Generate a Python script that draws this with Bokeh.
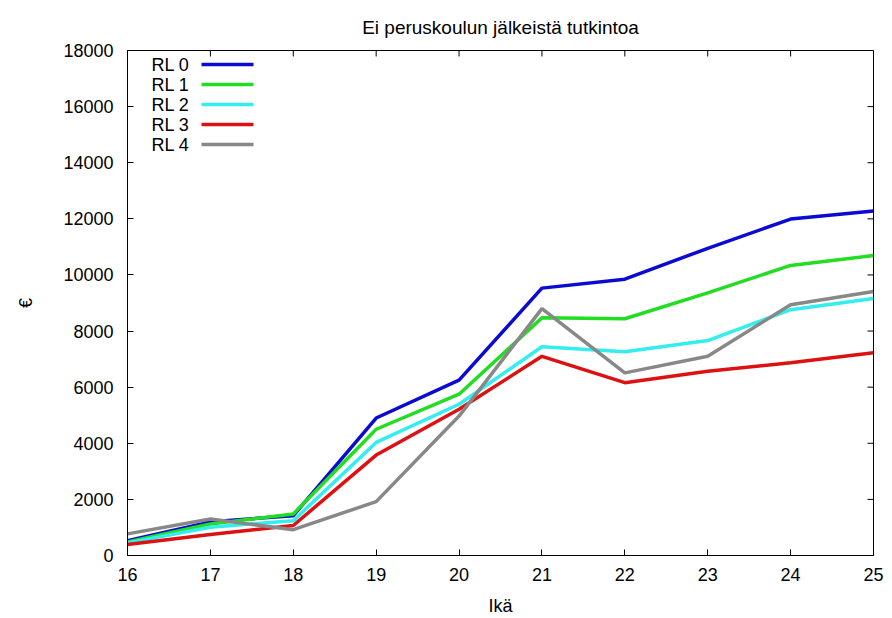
from bokeh.plotting import figure
from bokeh.models import Range1d, FixedTicker, Label, BoxAnnotation, Title
from bokeh.embed import file_html
from bokeh.resources import INLINE

ages = [16, 17, 18, 19, 20, 21, 22, 23, 24, 25]
rl0 = [530, 1200, 1420, 4900, 6250, 9530, 9850, 10950, 11990, 12280]
rl1 = [480, 1120, 1480, 4500, 5750, 8470, 8440, 9360, 10340, 10690]
rl2 = [450, 1010, 1240, 4030, 5390, 7440, 7260, 7660, 8760, 9160]
rl3 = [390, 750, 1070, 3580, 5210, 7100, 6160, 6570, 6870, 7230]
rl4 = [770, 1300, 920, 1920, 4970, 8800, 6510, 7100, 8940, 9410]

series_names = ["RL 0", "RL 1", "RL 2", "RL 3", "RL 4"]
series = [rl0, rl1, rl2, rl3, rl4]
colors = ["#0a0ad2", "#22dd22", "#33eeee", "#dd1111", "#888888"]

y_ticks = [0, 2000, 4000, 6000, 8000, 10000, 12000, 14000, 16000, 18000]
title_text = "Ei peruskoulun jälkeistä tutkintoa"
x_label = "Ikä"
y_label = "€"

FONT = "Liberation Sans"
W, H = 892, 618
BL, BR, BT, BB = 127, 19, 50, 61
FW, FH = W - BL - BR, H - BT - BB
XMIN, XMAX, YMIN, YMAX = 16, 25, 0, 18000
TICK = 6

p = figure(width=W, height=H, output_backend="svg", toolbar_location=None,
           x_range=Range1d(XMIN, XMAX), y_range=Range1d(YMIN, YMAX),
           min_border_left=BL, min_border_right=BR, min_border_top=BT, min_border_bottom=BB)
p.title = Title(text=title_text, align="center", text_font=FONT, text_font_size="19px",
                text_font_style="normal", text_color="black", standoff=25,
                text_line_height=1.0)
p.xgrid.visible = False
p.ygrid.visible = False
p.outline_line_color = "black"
p.outline_line_width = 1
p.outline_line_alpha = 1
p.background_fill_color = "white"
p.border_fill_color = "white"

for ax in (p.xaxis[0], p.yaxis[0]):
    ax.major_tick_in = TICK
    ax.major_tick_out = 0
    ax.minor_tick_in = 0
    ax.minor_tick_out = 0
    ax.axis_line_color = "black"
    ax.major_tick_line_color = "black"
    ax.major_label_text_font = FONT
    ax.major_label_text_font_size = "18px"
    ax.major_label_text_color = "black"
    ax.axis_label_text_font = FONT
    ax.axis_label_text_font_size = "18px"
    ax.axis_label_text_font_style = "normal"
    ax.axis_label_text_color = "black"

p.xaxis[0].ticker = FixedTicker(ticks=ages)
p.yaxis[0].ticker = FixedTicker(ticks=y_ticks)
p.xaxis[0].axis_label = x_label
p.yaxis[0].axis_label = y_label
p.xaxis[0].major_label_standoff = 12
p.yaxis[0].major_label_standoff = 14
p.xaxis[0].axis_label_standoff = 12
p.yaxis[0].axis_label_standoff = 24

# mirrored tick marks on the top and right edges of the frame
dy = TICK * (YMAX - YMIN) / FH
dx = TICK * (XMAX - XMIN) / FW
p.segment(x0=ages, y0=[YMAX] * len(ages), x1=ages, y1=[YMAX - dy] * len(ages),
          line_color="black", line_width=1)
p.segment(x0=[XMAX] * len(y_ticks), y0=y_ticks, x1=[XMAX - dx] * len(y_ticks), y1=y_ticks,
          line_color="black", line_width=1)

for name, vals, col in zip(series_names, series, colors):
    p.line(ages, vals, line_color=col, line_width=3.5)

# custom legend (label to the left of the sample line), screen units relative to frame
for i, (name, col) in enumerate(zip(series_names, colors)):
    yc = FH - 16 - 20 * i
    p.add_layout(Label(x=62, y=yc, x_units="screen", y_units="screen", text=name,
                       text_align="right", text_baseline="middle", text_font=FONT,
                       text_font_size="18px", text_color="black"))
    p.add_layout(BoxAnnotation(left=74, right=126, bottom=yc - 1.75, top=yc + 1.75,
                               left_units="screen", right_units="screen",
                               bottom_units="screen", top_units="screen",
                               fill_color=col, fill_alpha=1, line_color=None))

open("out.html", "w").write(file_html(p, INLINE))
